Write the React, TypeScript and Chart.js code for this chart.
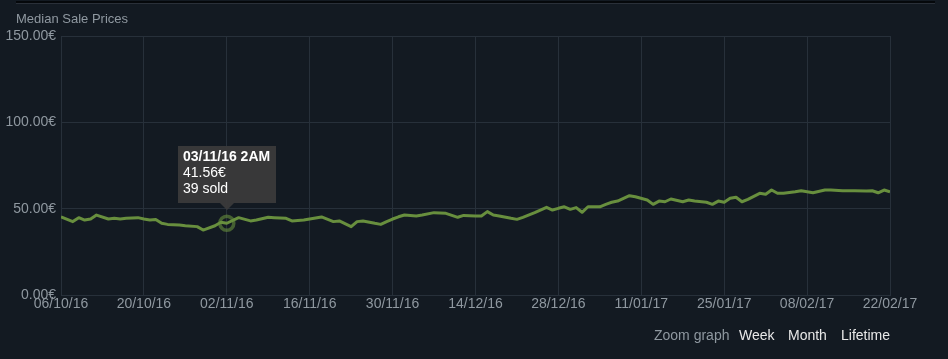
import React, { useEffect, useRef } from 'react';
import { Chart, registerables } from 'chart.js';

Chart.register(...registerables);

// Days since 06/10/16 and median sale price (€) for each sample
const dayOffsets = [
  0, 2, 3, 4, 5, 6, 8, 9, 10, 11, 13, 14, 15, 16, 17, 18, 20, 21, 23, 24,
  26, 27, 28, 30, 32, 33, 35, 36, 38, 39, 41, 42, 44, 46, 47, 49, 50, 51, 53, 54,
  55, 56, 57, 58, 60, 61, 63, 65, 67, 68, 70, 71, 72, 73, 74, 76, 77, 78, 80, 82,
  83, 84, 85, 86, 87, 88, 89, 91, 92, 93, 94, 96, 97, 99, 100, 101, 102, 103, 105, 106,
  107, 109, 110, 111, 112, 113, 114, 115, 116, 118, 119, 120, 121, 122, 124, 125, 127, 129, 130, 132,
  134, 136, 137, 138, 139, 140,
];
const medianPrices = [
  45.3, 42.5, 44.8, 43.4, 44.0, 46.3, 44.0, 44.4, 44.0, 44.4, 44.8, 44.0, 43.4, 43.7, 41.5, 40.9, 40.5, 40.1, 39.6, 37.6,
  40.1, 42.1, 41.56, 44.8, 42.9, 43.4, 45.0, 44.8, 44.4, 42.9, 43.4, 44.0, 45.2, 42.5, 42.9, 39.6, 42.5, 42.9, 41.5, 40.9,
  42.5, 44.0, 45.3, 46.3, 45.8, 46.3, 47.7, 47.3, 45.0, 46.1, 45.8, 45.8, 48.3, 46.3, 45.8, 44.4, 43.8, 45.0, 47.7, 50.8,
  49.2, 50.2, 51.1, 49.6, 50.6, 47.9, 51.1, 51.1, 52.5, 53.7, 54.4, 57.5, 56.9, 55.0, 52.5, 54.4, 54.0, 55.6, 54.0, 55.0,
  54.4, 53.7, 52.5, 54.4, 53.7, 56.0, 56.6, 54.0, 55.4, 58.9, 58.3, 60.8, 58.9, 58.9, 59.8, 60.4, 59.2, 60.8, 60.8, 60.4,
  60.4, 60.2, 60.4, 59.2, 60.8, 59.8,
];

const xTickLabels = [
  '06/10/16', '20/10/16', '02/11/16', '16/11/16', '30/11/16', '14/12/16',
  '28/12/16', '11/01/17', '25/01/17', '08/02/17', '22/02/17',
];
const yTickLabels = ['0.00€', '50.00€', '100.00€', '150.00€'];

const chartTitle = 'Median Sale Prices';
const tooltipDay = 28;
const tooltipLines = ['03/11/16 2AM', '41.56€', '39 sold'];
const zoomLabel = 'Zoom graph';
const zoomOptions = ['Week', 'Month', 'Lifetime'];

const BG = '#131a22';
const GRID = '#27303a';
const TEXT = '#8f98a0';
const LINE = '#688f3e';
const FONT = 'Arial, "Liberation Sans", sans-serif';

const fixedTooltip = {
  id: 'fixedTooltip',
  afterDatasetsDraw(chart: any) {
    const idx = dayOffsets.indexOf(tooltipDay);
    const el = chart.getDatasetMeta(0).data[idx];
    if (!el) return;
    const x = el.x;
    const y = el.y;
    const ctx = chart.ctx;
    ctx.save();
    // highlight ring
    ctx.beginPath();
    ctx.arc(x, y, 7, 0, Math.PI * 2);
    ctx.lineWidth = 3.5;
    ctx.strokeStyle = 'rgba(104,143,62,0.6)';
    ctx.stroke();
    // box
    const w = 98;
    const h = 57;
    const left = Math.round(x) - 49;
    const bottom = Math.round(y) - 20;
    const top = bottom - h;
    ctx.fillStyle = 'rgba(58,58,58,0.97)';
    ctx.beginPath();
    ctx.moveTo(left, top);
    ctx.lineTo(left + w, top);
    ctx.lineTo(left + w, bottom);
    ctx.lineTo(Math.round(x) + 7, bottom);
    ctx.lineTo(Math.round(x), bottom + 7);
    ctx.lineTo(Math.round(x) - 7, bottom);
    ctx.lineTo(left, bottom);
    ctx.closePath();
    ctx.fill();
    ctx.fillStyle = '#ffffff';
    ctx.textBaseline = 'middle';
    ctx.textAlign = 'left';
    tooltipLines.forEach((t, i) => {
      ctx.font = (i === 0 ? 'bold ' : '') + '14px ' + FONT;
      ctx.fillText(t, left + 5, top + 11 + i * 16);
    });
    ctx.restore();
  },
};

export default function App() {
  const canvasRef = useRef<HTMLCanvasElement | null>(null);

  useEffect(() => {
    document.body.style.margin = '0';
    document.body.style.background = BG;
    const canvas = canvasRef.current;
    if (!canvas) return;
    Chart.defaults.font.family = FONT;
    const chart = new Chart(canvas, {
      type: 'line',
      data: {
        datasets: [
          {
            data: dayOffsets.map((d, i) => ({ x: d, y: medianPrices[i] })),
            borderColor: LINE,
            borderWidth: 3,
            pointRadius: 0,
            tension: 0,
            fill: false,
            borderJoinStyle: 'round',
          },
        ],
      },
      options: {
        animation: false,
        responsive: false,
        devicePixelRatio: 1,
        events: [],
        layout: { padding: { left: 0, top: 36, right: 58, bottom: 0 } },
        plugins: { legend: { display: false }, tooltip: { enabled: false } },
        scales: {
          x: {
            type: 'linear',
            min: 0,
            max: (xTickLabels.length - 1) * 14,
            afterBuildTicks: (s: any) => {
              s.ticks = xTickLabels.map((_, i) => ({ value: i * 14 }));
            },
            afterFit: (s: any) => {
              s.height = 64;
            },
            ticks: {
              callback: (v: any) => xTickLabels[Math.round(Number(v) / 14)],
              color: TEXT,
              font: { size: 14, family: FONT },
              padding: 1,
              maxRotation: 0,
              autoSkip: false,
            },
            grid: { color: GRID, drawTicks: false },
            border: { color: GRID },
          },
          y: {
            min: 0,
            max: 150,
            afterBuildTicks: (s: any) => {
              s.ticks = yTickLabels.map((_, i) => ({ value: i * 50 }));
            },
            afterFit: (s: any) => {
              s.width = 61;
            },
            ticks: {
              callback: (v: any) => yTickLabels[Math.round(Number(v) / 50)],
              color: TEXT,
              font: { size: 14, family: FONT },
              padding: 5,
            },
            grid: { color: GRID, drawTicks: false },
            border: { color: GRID },
          },
        },
      },
      plugins: [fixedTooltip],
    } as any);
    return () => chart.destroy();
  }, []);

  const zoomLefts = [739, 788, 841];

  return (
    <div style={{ position: 'relative', width: 948, height: 359, background: BG, overflow: 'hidden', fontFamily: FONT }}>
      <div style={{ position: 'absolute', left: 16, top: 1, width: 919, height: 2, background: '#05080b' }} />
      <div style={{ position: 'absolute', left: 16, top: 3, width: 919, height: 1, background: '#2a3039' }} />
      <canvas ref={canvasRef} width={948} height={359} style={{ position: 'absolute', left: 0, top: 0, width: 948, height: 359 }} />
      <div style={{ position: 'absolute', left: 16, top: 11, fontSize: 13, lineHeight: '16px', color: TEXT, whiteSpace: 'nowrap' }}>
        {chartTitle}
      </div>
      <div style={{ position: 'absolute', left: 654, top: 327, fontSize: 14, lineHeight: '16px', color: TEXT, whiteSpace: 'nowrap' }}>
        {zoomLabel}
      </div>
      {zoomOptions.map((z, i) => (
        <div key={z} style={{ position: 'absolute', left: zoomLefts[i], top: 327, fontSize: 14, lineHeight: '16px', color: '#e8e8e8', whiteSpace: 'nowrap' }}>
          {z}
        </div>
      ))}
    </div>
  );
}
